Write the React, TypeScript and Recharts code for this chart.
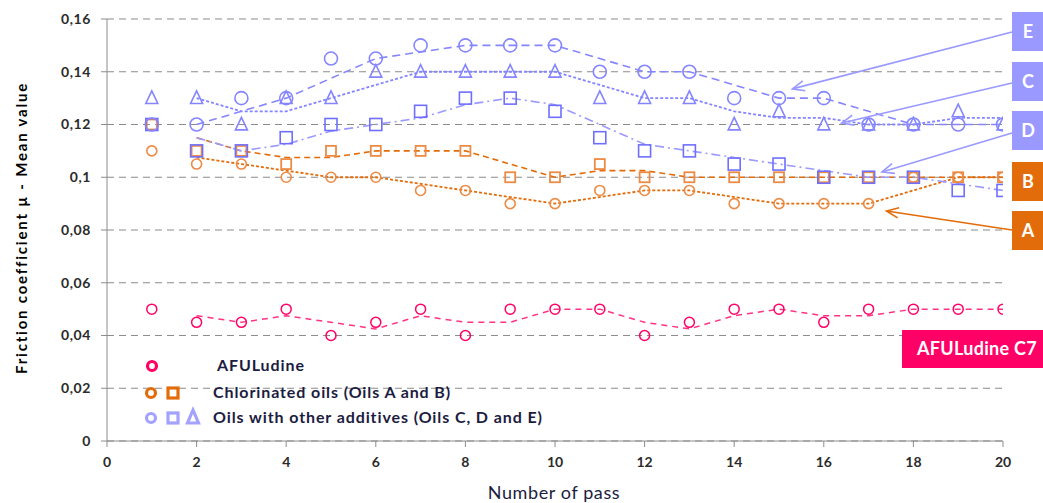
import React from "react"
import {
  ComposedChart,
  Scatter,
  Line,
  XAxis,
  YAxis,
  CartesianGrid,
} from "recharts"

// measured values, pass 1..20
const passes = [1, 2, 3, 4, 5, 6, 7, 8, 9, 10, 11, 12, 13, 14, 15, 16, 17, 18, 19, 20]
const afuludine = [0.05, 0.045, 0.045, 0.05, 0.04, 0.045, 0.05, 0.04, 0.05, 0.05, 0.05, 0.04, 0.045, 0.05, 0.05, 0.045, 0.05, 0.05, 0.05, 0.05]
const oilA = [0.11, 0.105, 0.105, 0.1, 0.1, 0.1, 0.095, 0.095, 0.09, 0.09, 0.095, 0.095, 0.095, 0.09, 0.09, 0.09, 0.09, 0.1, 0.1, 0.1]
const oilB = [0.12, 0.11, 0.11, 0.105, 0.11, 0.11, 0.11, 0.11, 0.1, 0.1, 0.105, 0.1, 0.1, 0.1, 0.1, 0.1, 0.1, 0.1, 0.1, 0.1]
const oilC = [0.13, 0.13, 0.12, 0.13, 0.13, 0.14, 0.14, 0.14, 0.14, 0.14, 0.13, 0.13, 0.13, 0.12, 0.125, 0.12, 0.12, 0.12, 0.125, 0.12]
const oilD = [0.12, 0.11, 0.11, 0.115, 0.12, 0.12, 0.125, 0.13, 0.13, 0.125, 0.115, 0.11, 0.11, 0.105, 0.105, 0.1, 0.1, 0.1, 0.095, 0.095]
const oilE = [0.12, 0.12, 0.13, 0.13, 0.145, 0.145, 0.15, 0.15, 0.15, 0.15, 0.14, 0.14, 0.14, 0.13, 0.13, 0.13, 0.12, 0.12, 0.12, 0.12]

// moving-average trend lines as drawn, pass 2..20
const trendPasses = [2, 3, 4, 5, 6, 7, 8, 9, 10, 11, 12, 13, 14, 15, 16, 17, 18, 19, 20]
const afuTrend = [0.0475, 0.045, 0.0475, 0.045, 0.0425, 0.0475, 0.045, 0.045, 0.05, 0.05, 0.045, 0.0425, 0.0475, 0.05, 0.0475, 0.0475, 0.05, 0.05, 0.05]
const oilATrend = [0.1075, 0.105, 0.1025, 0.1, 0.1, 0.0975, 0.095, 0.0925, 0.09, 0.0925, 0.095, 0.095, 0.0925, 0.09, 0.09, 0.09, 0.095, 0.1, 0.1]
const oilBTrend = [0.115, 0.11, 0.1075, 0.1075, 0.11, 0.11, 0.11, 0.105, 0.1, 0.1025, 0.1025, 0.1, 0.1, 0.1, 0.1, 0.1, 0.1, 0.1, 0.1]
const oilCTrend = [0.13, 0.125, 0.125, 0.13, 0.135, 0.14, 0.14, 0.14, 0.14, 0.135, 0.13, 0.13, 0.125, 0.1225, 0.1225, 0.12, 0.12, 0.1225, 0.1225]
const oilDTrend = [0.115, 0.11, 0.1125, 0.1175, 0.12, 0.1225, 0.1275, 0.13, 0.1275, 0.12, 0.1125, 0.11, 0.1075, 0.105, 0.1025, 0.1, 0.1, 0.0975, 0.095]
const oilETrend = [0.12, 0.125, 0.13, 0.1375, 0.145, 0.1475, 0.15, 0.15, 0.15, 0.145, 0.14, 0.14, 0.135, 0.13, 0.13, 0.125, 0.12, 0.12, 0.12]

const xTicks = [0, 2, 4, 6, 8, 10, 12, 14, 16, 18, 20]
const yTicks = [0, 0.02, 0.04, 0.06, 0.08, 0.1, 0.12, 0.14, 0.16]

// annotation tips (data coords) for the lettered labels
const annotations = [
  { label: "E", tip: [15.3, 0.1335], color: "#9999FF" },
  { label: "C", tip: [16.4, 0.1206], color: "#9999FF" },
  { label: "D", tip: [17.3, 0.102], color: "#9999FF" },
  { label: "A", tip: [17.4, 0.0872], color: "#E36C0A" },
]

const W = 1043
const H = 503
const margin = { top: 19, right: 40, bottom: 32, left: 0 }
const yAxisW = 107
const plotL = margin.left + yAxisW
const plotR = W - margin.right
const plotT = margin.top
const plotB = H - margin.bottom - 30
const px = (x: number) => plotL + (x / 20) * (plotR - plotL)
const py = (y: number) => plotB - (y / 0.16) * (plotB - plotT)

const FONT = "Lato, 'Open Sans', sans-serif"
const BLUE = "#8585FF"
const ORANGE = "#E36C0A"
const ORANGE_MK = "#EC8B45"
const PINK = "#FF0066"
const INK = "#1c1c40"

const toPts = (xs: number[], ys: number[]) => xs.map((x, i) => ({ x, y: ys[i] }))

const circle = (r: number, color: string, sw = 1.5) => (p: any) =>
  p.cx == null ? <g /> : <circle cx={p.cx} cy={p.cy} r={r} fill="none" stroke={color} strokeWidth={sw} />

const square = (s: number, color: string, sw = 1.5) => (p: any) =>
  p.cx == null ? <g /> : <rect x={p.cx - s / 2} y={p.cy - s / 2} width={s} height={s} fill="none" stroke={color} strokeWidth={sw} />

const triangle = (s: number, color: string, sw = 1.5) => (p: any) =>
  p.cx == null ? (
    <g />
  ) : (
    <polygon
      points={`${p.cx},${p.cy - s * 0.6} ${p.cx - s / 2},${p.cy + s * 0.45} ${p.cx + s / 2},${p.cy + s * 0.45}`}
      fill="none"
      stroke={color}
      strokeWidth={sw}
    />
  )

const fmt = (v: number) => (v === 0 ? "0" : String(v).replace(".", ","))

function Arrow({ x1, y1, x2, y2, color }: any) {
  const a = Math.atan2(y2 - y1, x2 - x1)
  const len = 13
  const spread = 0.4
  const h1 = [x2 - len * Math.cos(a - spread), y2 - len * Math.sin(a - spread)]
  const h2 = [x2 - len * Math.cos(a + spread), y2 - len * Math.sin(a + spread)]
  return (
    <g stroke={color} strokeWidth={1.6} fill="none">
      <line x1={x1} y1={y1} x2={x2} y2={y2} />
      <polyline points={`${h1[0]},${h1[1]} ${x2},${y2} ${h2[0]},${h2[1]}`} />
    </g>
  )
}

function Overlay() {
  const boxX = 1012
  const boxes = [
    { label: "E", y: 12, color: "#9999FF", from: 32 },
    { label: "C", y: 62, color: "#9999FF", from: 83 },
    { label: "D", y: 111, color: "#9999FF", from: 133 },
    { label: "B", y: 162, color: ORANGE, from: 0 },
    { label: "A", y: 211, color: ORANGE, from: 230 },
  ]
  const legendText = { fontFamily: FONT, fontSize: 16, fontWeight: 700, letterSpacing: 0.9, fill: INK }
  return (
    <svg width={W} height={H} style={{ position: "absolute", left: 0, top: 0, pointerEvents: "none" }}>
      {annotations.map((a) => {
        const b = boxes.find((bx) => bx.label === a.label)!
        return <Arrow key={a.label} x1={boxX} y1={b.from} x2={px(a.tip[0])} y2={py(a.tip[1])} color={a.color} />
      })}
      {boxes.map((b) => (
        <g key={b.label}>
          <rect x={boxX} y={b.y} width={W - boxX} height={39} fill={b.color} />
          <text x={boxX + 16} y={b.y + 26} textAnchor="middle" fill="#fff" fontFamily={FONT} fontWeight={700} fontSize={18}>
            {b.label}
          </text>
        </g>
      ))}
      <rect x={902} y={330} width={W - 902} height={38} fill={PINK} />
      <text x={977} y={355} textAnchor="middle" fill="#fff" fontFamily={FONT} fontWeight={700} fontSize={18} letterSpacing={0.3}>
        AFULudine C7
      </text>

      {/* legend */}
      <circle cx={152} cy={366} r={4.5} fill="none" stroke={PINK} strokeWidth={3.2} />
      <text x={217} y={371} {...legendText}>AFULudine</text>
      <circle cx={151} cy={393} r={4.5} fill="none" stroke={ORANGE} strokeWidth={3.2} />
      <rect x={168} y={388} width={10} height={10} fill="none" stroke={ORANGE} strokeWidth={3.2} />
      <text x={213} y={398} {...legendText}>Chlorinated oils (Oils A and B)</text>
      <circle cx={151} cy={418} r={4.5} fill="none" stroke="#A3A3FF" strokeWidth={3.2} />
      <rect x={168} y={413} width={10} height={10} fill="none" stroke="#A3A3FF" strokeWidth={3.2} />
      <polygon points="193,410 187.5,423 198.5,423" fill="none" stroke="#A3A3FF" strokeWidth={3.2} />
      <text x={213} y={423} {...legendText}>Oils with other additives (Oils C, D and E)</text>

      {/* axis titles */}
      <text
        transform={`translate(27, ${(plotT + plotB) / 2 - 2}) rotate(-90)`}
        textAnchor="middle"
        fontFamily={FONT}
        fontWeight={700}
        fontSize={15}
        letterSpacing={1.8}
        fill="#000"
      >
        Friction coefficient µ - Mean value
      </text>
      <text x={554} y={499} textAnchor="middle" fontFamily={FONT} fontSize={18} letterSpacing={0.6} fill={INK}>
        Number of pass
      </text>
    </svg>
  )
}

export default function App() {
  return (
    <div style={{ position: "absolute", left: 0, top: 0, width: W, height: H, background: "#fff" }}>
      <ComposedChart width={W} height={H} margin={margin}>
        <CartesianGrid vertical={false} stroke="#8c8c8c" strokeDasharray="7 5" strokeWidth={1.2} />
        <XAxis
          type="number"
          dataKey="x"
          domain={[0, 20]}
          ticks={xTicks}
          allowDataOverflow
          height={30}
          stroke="#8c8c8c"
          tickSize={6}
          tickMargin={10}
          tick={{ fontFamily: FONT, fontSize: 14, fill: "#2b2b2b", fontWeight: 700 }}
        />
        <YAxis
          type="number"
          dataKey="y"
          domain={[0, 0.16]}
          ticks={yTicks}
          allowDataOverflow
          width={yAxisW}
          stroke="#8c8c8c"
          tickSize={6}
          tickMargin={10}
          tickFormatter={fmt}
          tick={{ fontFamily: FONT, fontSize: 14, fill: "#2b2b2b", fontWeight: 700, letterSpacing: 0.6 }}
        />

        <Line data={toPts(trendPasses, afuTrend)} dataKey="y" stroke="#FF3385" strokeWidth={1.5} strokeDasharray="6 5" dot={false} isAnimationActive={false} />
        <Line data={toPts(trendPasses, oilATrend)} dataKey="y" stroke={ORANGE} strokeWidth={1.8} strokeDasharray="3 2" dot={false} isAnimationActive={false} />
        <Line data={toPts(trendPasses, oilBTrend)} dataKey="y" stroke={ORANGE} strokeWidth={1.6} strokeDasharray="6 4" dot={false} isAnimationActive={false} />
        <Line data={toPts(trendPasses, oilCTrend)} dataKey="y" stroke={BLUE} strokeWidth={1.8} strokeDasharray="3 2" dot={false} isAnimationActive={false} />
        <Line data={toPts(trendPasses, oilDTrend)} dataKey="y" stroke="#9A9AFF" strokeWidth={1.6} strokeDasharray="9 4 2 4" dot={false} isAnimationActive={false} />
        <Line data={toPts(trendPasses, oilETrend)} dataKey="y" stroke={BLUE} strokeWidth={1.6} strokeDasharray="8 5" dot={false} isAnimationActive={false} />

        <Scatter data={toPts(passes, afuludine)} dataKey="y" shape={circle(5, PINK, 1.5)} isAnimationActive={false} />
        <Scatter data={toPts(passes, oilA)} dataKey="y" shape={circle(5, ORANGE_MK, 1.6)} isAnimationActive={false} />
        <Scatter data={toPts(passes, oilB)} dataKey="y" shape={square(10, ORANGE_MK, 1.8)} isAnimationActive={false} />
        <Scatter data={toPts(passes, oilC)} dataKey="y" shape={triangle(12, BLUE, 1.6)} isAnimationActive={false} />
        <Scatter data={toPts(passes, oilD)} dataKey="y" shape={square(12, "#6F6FFF", 1.6)} isAnimationActive={false} />
        <Scatter data={toPts(passes, oilE)} dataKey="y" shape={circle(6.5, BLUE, 1.6)} isAnimationActive={false} />
      </ComposedChart>
      <Overlay />
    </div>
  )
}
